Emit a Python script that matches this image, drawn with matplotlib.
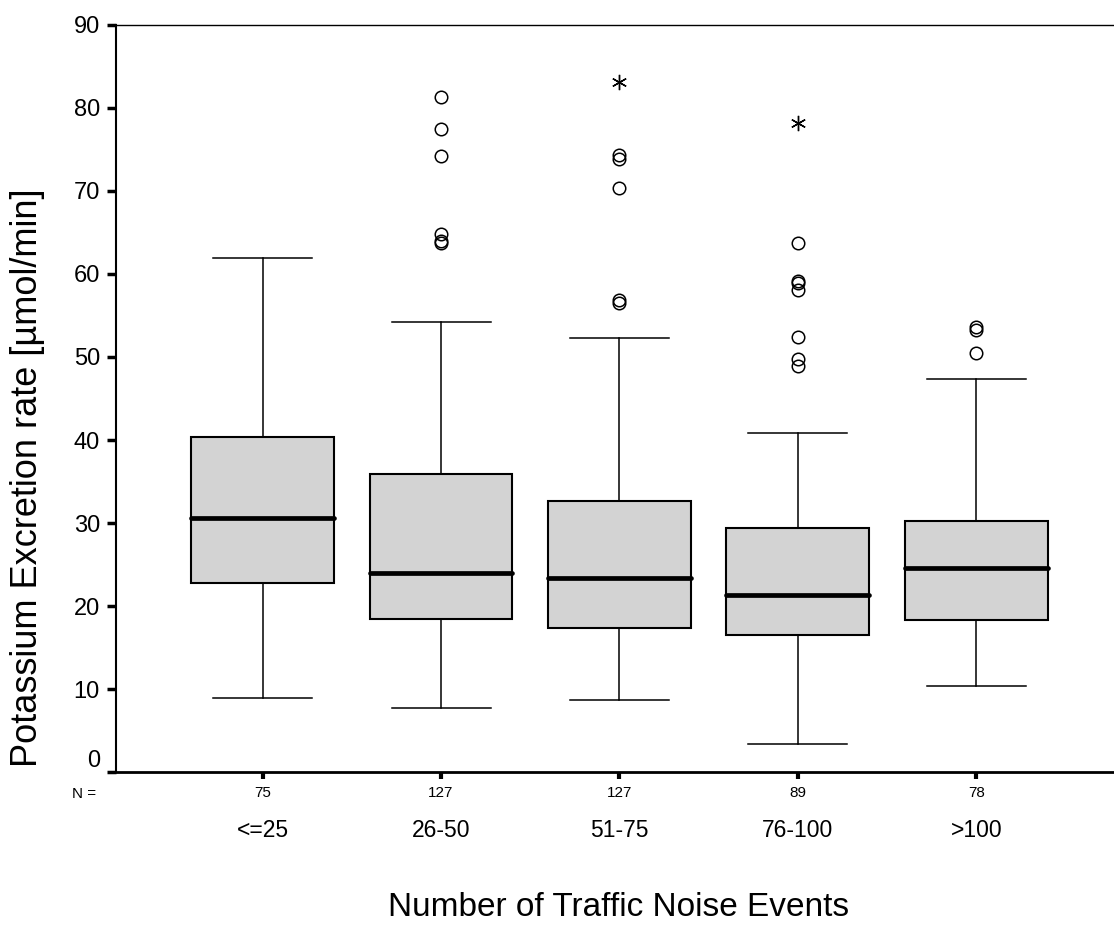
import matplotlib
matplotlib.use('Agg')
import matplotlib.pyplot as plt
import numpy as np

plt.rcParams['font.family'] = ['Liberation Sans', 'DejaVu Sans']

# noise-event groups and group sizes
categories = ['<=25', '26-50', '51-75', '76-100', '>100']
n_counts = [75, 127, 127, 89, 78]

# box statistics, potassium excretion rate [umol/min]
q1 = [22.8, 18.5, 17.4, 16.5, 18.3]
median = [30.6, 24.0, 23.4, 21.3, 24.6]
q3 = [40.4, 35.9, 32.7, 29.4, 30.2]
whisker_low = [8.9, 7.7, 8.7, 3.4, 10.4]
whisker_high = [61.9, 54.2, 52.3, 40.8, 47.3]

# outliers (circles) and extreme values (asterisks)
outliers = [
    [],
    [81.3, 77.4, 74.2, 64.8, 63.9, 63.7],
    [74.3, 73.8, 70.3, 56.8, 56.5],
    [63.7, 59.1, 58.9, 58.1, 52.4, 49.7, 48.9],
    [53.6, 53.2, 50.5],
]
extremes = [[], [], [83.1], [78.2], []]

fig = plt.figure(figsize=(11.14, 9.26), dpi=100)
ax = fig.add_axes([0.1041, 0.1659, 0.8959, 0.8076])

positions = np.arange(1, len(categories) + 1)
stats = []
for i in range(len(categories)):
    stats.append(dict(med=median[i], q1=q1[i], q3=q3[i],
                      whislo=whisker_low[i], whishi=whisker_high[i],
                      fliers=outliers[i]))

ax.bxp(stats, positions=positions, widths=0.8, capwidths=0.555,
       patch_artist=True, showfliers=True,
       boxprops=dict(facecolor='#d3d3d3', edgecolor='black', linewidth=1.5),
       medianprops=dict(color='black', linewidth=3.4, solid_capstyle='round'),
       whiskerprops=dict(color='black', linewidth=1.1),
       capprops=dict(color='black', linewidth=1.1),
       flierprops=dict(marker='o', markerfacecolor='none',
                       markeredgecolor='black', markersize=9,
                       markeredgewidth=1.1))

for p, ext in zip(positions, extremes):
    if ext:
        ax.plot([p] * len(ext), ext, linestyle='none', marker=(6, 2, 0),
                markersize=11, color='black', markeredgewidth=1.0)

ax.set_xlim(0.178, 5.772)
ax.set_ylim(0, 90)

ax.spines['right'].set_visible(False)
ax.spines['top'].set_linewidth(1.0)
ax.spines['left'].set_linewidth(1.5)
ax.spines['bottom'].set_linewidth(2.0)

ax.set_yticks(range(0, 91, 10))
ax.tick_params(axis='y', length=6.5, width=2.5, pad=5, labelsize=17)
ax.get_yticklabels()[0].set_verticalalignment('bottom')

ax.set_xticks(positions)
ax.set_xticklabels([str(n) for n in n_counts])
ax.tick_params(axis='x', length=5, width=3, pad=5, labelsize=11)

xt = ax.get_xaxis_transform()
ax.text(0, -0.0285, 'N =', transform=xt, ha='center', va='center', fontsize=11)
for p, cat in zip(positions, categories):
    ax.text(p, -0.078, cat, transform=xt, ha='center', va='center', fontsize=16.5)

fig.text(619 / 1114, 1 - 907 / 926, 'Number of Traffic Noise Events',
         ha='center', va='center', fontsize=24)
fig.text(28 / 1114, 1 - 478 / 926, 'Potassium Excretion rate [µmol/min]',
         ha='center', va='center', rotation=90, fontsize=26)

fig.savefig('out.png', dpi=100)
